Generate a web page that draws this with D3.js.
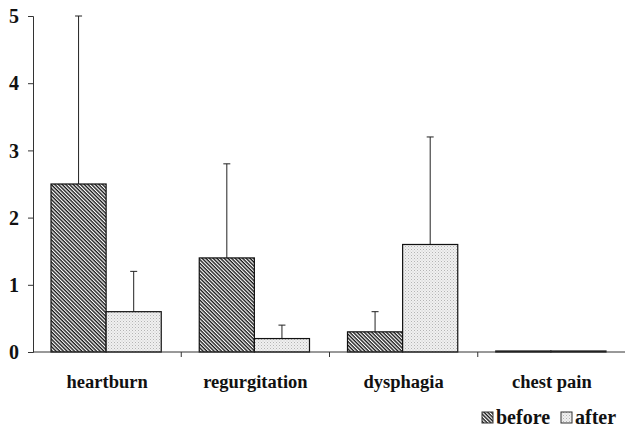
<!DOCTYPE html>
<html>
<head>
<meta charset="utf-8">
<script src="https://cdn.jsdelivr.net/npm/d3@7"></script>
<style>
  body { margin: 0; background: #fff; }
  svg text { font-family: "Liberation Serif", "Times New Roman", serif; font-weight: bold; fill: #111; }
</style>
</head>
<body>
<svg id="chart" width="625" height="433"></svg>
<script>
var categories = ["heartburn", "regurgitation", "dysphagia", "chest pain"];
var series = ["before", "after"];
var beforeMean = [2.5, 1.4, 0.3, 0];
var beforeErr = [2.5, 1.4, 0.3, 0];
var afterMean = [0.6, 0.2, 1.6, 0];
var afterErr = [0.6, 0.2, 1.6, 0];
var yTicks = [0, 1, 2, 3, 4, 5];

var svg = d3.select("#chart");
var plotLeft = 33, plotRight = 626, plotTop = 16, plotBottom = 352;

var x = d3.scaleBand().domain(categories).range([plotLeft, plotRight]);
var inner = d3.scaleBand().domain(series).range([18, x.bandwidth() - 20]);
var y = d3.scaleLinear().domain([0, 5]).range([plotBottom, plotTop]);

// patterns
var defs = svg.append("defs");
var hatch = defs.append("pattern")
    .attr("id", "hatch")
    .attr("patternUnits", "userSpaceOnUse")
    .attr("width", 2.6).attr("height", 2.6)
    .attr("patternTransform", "rotate(45)");
hatch.append("rect").attr("width", 2.6).attr("height", 2.6).attr("fill", "#fff");
hatch.append("rect").attr("width", 2.6).attr("height", 1.4).attr("fill", "#1a1a1a");

var dots = defs.append("pattern")
    .attr("id", "dots")
    .attr("patternUnits", "userSpaceOnUse")
    .attr("width", 3).attr("height", 3);
dots.append("rect").attr("width", 3).attr("height", 3).attr("fill", "#f0f0f0");
dots.append("rect").attr("x", 0).attr("y", 0).attr("width", 1).attr("height", 1).attr("fill", "#b4b4b4");
dots.append("rect").attr("x", 1.5).attr("y", 1.5).attr("width", 1).attr("height", 1).attr("fill", "#c8c8c8");

var fills = { before: "url(#hatch)", after: "url(#dots)" };

var rows = [];
categories.forEach(function (c, i) {
    rows.push({ cat: c, s: "before", v: beforeMean[i], e: beforeErr[i] });
    rows.push({ cat: c, s: "after", v: afterMean[i], e: afterErr[i] });
});

// error bars (drawn first so bars sit over the stem)
var err = svg.append("g").attr("stroke", "#222").attr("stroke-width", 1);
rows.filter(function (d) { return d.e > 0; }).forEach(function (d) {
    var cx = x(d.cat) + inner(d.s) + inner.bandwidth() / 2;
    err.append("line").attr("x1", cx).attr("x2", cx)
        .attr("y1", y(d.v)).attr("y2", y(d.v + d.e));
    err.append("line").attr("x1", cx - 3.5).attr("x2", cx + 3.5)
        .attr("y1", y(d.v + d.e)).attr("y2", y(d.v + d.e));
});

// bars
svg.append("g").selectAll("rect").data(rows).enter().append("rect")
    .attr("x", function (d) { return x(d.cat) + inner(d.s); })
    .attr("width", inner.bandwidth())
    .attr("y", function (d) { return d.v > 0 ? y(d.v) : plotBottom - 1; })
    .attr("height", function (d) { return d.v > 0 ? plotBottom - y(d.v) : 1; })
    .attr("fill", function (d) { return fills[d.s]; })
    .attr("stroke", "#111")
    .attr("stroke-width", 1.2);

// axes
var yAxis = svg.append("g").attr("transform", "translate(" + plotLeft + ",0)")
    .call(d3.axisLeft(y).tickValues(yTicks).tickSize(5).tickFormat(d3.format("d")));
yAxis.select(".domain").attr("stroke", "#333");
yAxis.selectAll(".tick line").attr("stroke", "#333");
yAxis.selectAll(".tick text").attr("font-size", 20).attr("x", -14).attr("dy", "0.33em")
    .attr("font-family", "Liberation Serif").attr("font-weight", "bold").attr("fill", "#111");

var xAxis = svg.append("g").attr("transform", "translate(0," + plotBottom + ")");
xAxis.append("line").attr("x1", plotLeft).attr("x2", plotRight).attr("stroke", "#333");
xAxis.selectAll("line.tk").data(categories.slice(1)).enter().append("line")
    .attr("class", "tk")
    .attr("x1", function (d) { return x(d); }).attr("x2", function (d) { return x(d); })
    .attr("y1", 0).attr("y2", 5).attr("stroke", "#333");
xAxis.selectAll("text.cat").data(categories).enter().append("text")
    .attr("class", "cat")
    .attr("x", function (d) { return x(d) + x.bandwidth() / 2; })
    .attr("y", 36)
    .attr("text-anchor", "middle")
    .attr("font-size", 18.5)
    .text(function (d) { return d; });

// legend
var legend = svg.append("g").attr("transform", "translate(482,424)");
var lx = [0, 79];
series.forEach(function (s, i) {
    legend.append("rect").attr("x", lx[i]).attr("y", -12).attr("width", 11).attr("height", 11)
        .attr("fill", fills[s]).attr("stroke", "#333").attr("stroke-width", 1);
    legend.append("text").attr("x", lx[i] + 14).attr("y", 0).attr("font-size", 20).text(s);
});
</script>
</body>
</html>
